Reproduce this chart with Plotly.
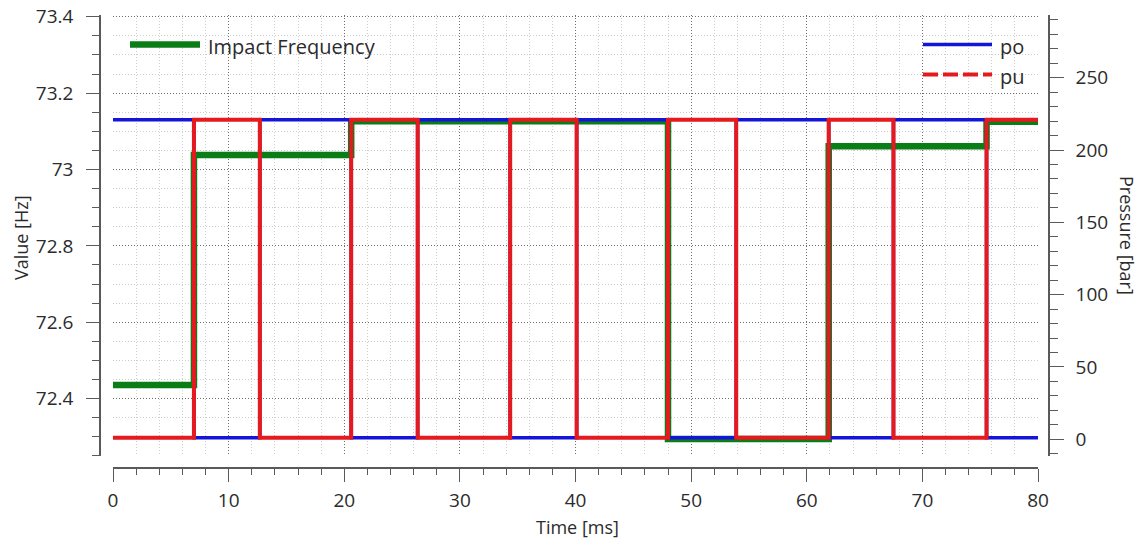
import plotly.graph_objects as go

# ---- data -------------------------------------------------------------
# switching instants of the valve pressures [ms]
switch_times = [0, 7.0, 12.7, 20.6, 26.35, 34.35, 40.1, 48.0, 53.9, 61.9, 67.5, 75.55, 80]
# pressure levels [bar] held after each switching instant
po_levels = [221, 1, 221, 1, 221, 1, 221, 1, 221, 1, 221, 1, 1]
pu_levels = [1, 221, 1, 221, 1, 221, 1, 221, 1, 221, 1, 221, 221]

# impact frequency steps [ms] / [Hz]
freq_times = [0, 7.0, 20.6, 48.0, 61.9, 75.55, 80]
freq_values = [72.436, 73.038, 73.126, 72.294, 73.061, 73.125, 73.125]

x_ticks = [0, 10, 20, 30, 40, 50, 60, 70, 80]

# ---- page geometry (pixels) -------------------------------------------
W, H = 1147, 540
M_L, M_R, M_T, M_B = 100, 98, 15, 72
PW, PH = W - M_L - M_R, H - M_T - M_B


def fx(px):
    return (px - M_L) / PW


def fy(py):
    return (H - M_B - py) / PH


BLUE = "#1515DA"
RED = "#E51A1F"
GREEN = "#0B7D16"
TXT = "#2b2b2b"
AX = "#5a5a5a"
FONT = "Open Sans"

fig = go.Figure()

fig.add_trace(go.Scatter(
    x=switch_times, y=po_levels, name="po", yaxis="y2",
    mode="lines", line=dict(color=BLUE, width=3.5, shape="hv"),
    showlegend=False,
))
# the sampled pu signal is drawn point-to-point, so its long flat stretches
# render solid; the key below shows its dashed style
fig.add_trace(go.Scatter(
    x=switch_times, y=pu_levels, name="pu", yaxis="y2",
    mode="lines", line=dict(color=RED, width=4, shape="hv"),
    showlegend=False,
))
fig.add_trace(go.Scatter(
    x=freq_times, y=freq_values, name="Impact Frequency", yaxis="y",
    mode="lines", line=dict(color=GREEN, width=6.5, shape="hv"),
    showlegend=False,
))

tickfont = dict(family=FONT, size=19, color=TXT)
major_grid = "#6e6e6e"
minor_grid = "#cdcdcd"

fig.update_layout(
    width=W, height=H,
    margin=dict(l=M_L, r=M_R, t=M_T, b=M_B, autoexpand=False),
    paper_bgcolor="white", plot_bgcolor="white",
    font=dict(family=FONT, color=TXT),
    xaxis=dict(
        domain=[fx(113), fx(1038)], range=[0, 80], automargin=False,
        anchor="free", position=0,
        tickvals=x_ticks, ticks="outside", ticklen=13, tickwidth=1.3, tickcolor=AX,
        showline=True, linecolor=AX, linewidth=1.5,
        showgrid=True, gridcolor=major_grid, griddash="1px,2px", gridwidth=1,
        minor=dict(dtick=2, ticks="outside", ticklen=6, tickcolor=AX,
                   showgrid=True, gridcolor=minor_grid, griddash="1px,2px"),
        tickfont=tickfont, ticklabelstandoff=2, zeroline=False,
    ),
    yaxis=dict(
        domain=[fy(456), fy(15)], range=[72.2498, 73.4045], automargin=False,
        anchor="free", position=0, side="left",
        tick0=72.4, dtick=0.2, ticks="outside", ticklen=13, tickwidth=1.3, tickcolor=AX,
        showline=True, linecolor=AX, linewidth=1.5,
        showgrid=True, gridcolor=major_grid, griddash="1px,2px", gridwidth=1,
        minor=dict(dtick=0.05, ticks="outside", ticklen=7, tickcolor=AX,
                   showgrid=True, gridcolor=minor_grid, griddash="1px,2px"),
        tickfont=tickfont, ticklabelstandoff=9, zeroline=False,
    ),
    yaxis2=dict(
        domain=[fy(456), fy(15)], range=[-11.6, 293.4], automargin=False,
        overlaying="y", anchor="free", position=1, side="right",
        tick0=0, dtick=50, ticks="outside", ticklen=14, tickwidth=1.3, tickcolor=AX,
        showline=True, linecolor=AX, linewidth=1.5, showgrid=False,
        minor=dict(dtick=10, ticks="outside", ticklen=8, tickcolor=AX, showgrid=False),
        tickfont=tickfont, ticklabelstandoff=8, zeroline=False,
    ),
)

# axis titles
title_font = dict(family=FONT, size=18, color=TXT)
fig.add_annotation(text="Time [ms]", x=fx(577), y=fy(527), xref="paper", yref="paper",
                   showarrow=False, font=title_font, xanchor="center", yanchor="middle")
fig.add_annotation(text="Value [Hz]", x=fx(21), y=fy(238), xref="paper", yref="paper",
                   showarrow=False, font=title_font, textangle=-90,
                   xanchor="center", yanchor="middle")
fig.add_annotation(text="Pressure [bar]", x=fx(1127), y=fy(235), xref="paper", yref="paper",
                   showarrow=False, font=title_font, textangle=90,
                   xanchor="center", yanchor="middle")

# legend keys
legend_font = dict(family=FONT, size=20, color=TXT)
fig.add_shape(type="line", xref="paper", yref="paper",
              x0=fx(130), x1=fx(200), y0=fy(44.5), y1=fy(44.5),
              line=dict(color=GREEN, width=6.5))
fig.add_annotation(text="Impact Frequency", x=fx(206), y=fy(46), xref="paper", yref="paper",
                   showarrow=False, font=legend_font, xanchor="left", yanchor="middle")
fig.add_shape(type="line", xref="paper", yref="paper",
              x0=fx(923), x1=fx(992), y0=fy(44.5), y1=fy(44.5),
              line=dict(color=BLUE, width=3.5))
fig.add_annotation(text="po", x=fx(998), y=fy(46), xref="paper", yref="paper",
                   showarrow=False, font=legend_font, xanchor="left", yanchor="middle")
fig.add_shape(type="line", xref="paper", yref="paper",
              x0=fx(923), x1=fx(992), y0=fy(74.5), y1=fy(74.5),
              line=dict(color=RED, width=4, dash="15px,5px"))
fig.add_annotation(text="pu", x=fx(998), y=fy(76), xref="paper", yref="paper",
                   showarrow=False, font=legend_font, xanchor="left", yanchor="middle")

fig.write_html("out.html")
